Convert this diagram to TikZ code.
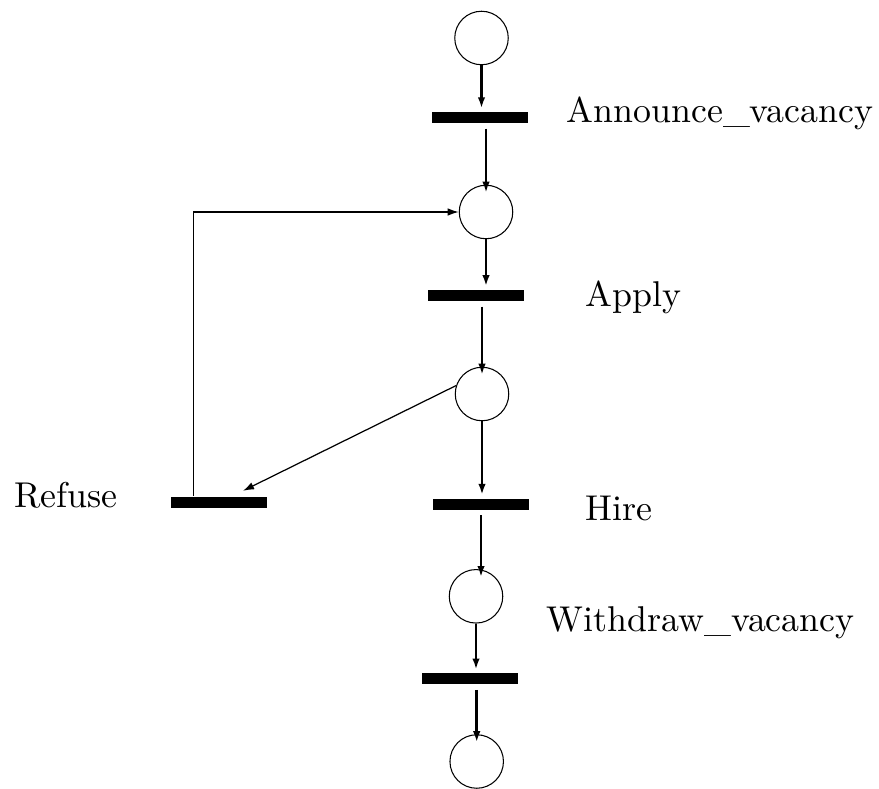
\documentclass[tikz,border=0pt]{standalone}
\usepackage{tikz}
\usetikzlibrary{arrows.meta,calc,positioning}
\tikzset{
	petri net/.style={
		x=1mm, y=1mm,
		font=\fontsize{10.2}{12}\selectfont,
		place/.style={draw,circle,line width=.3pt,minimum size=5.35mm,inner sep=0pt},
		trans/.style={fill,draw=none,minimum width=9.55mm,minimum height=1.1mm,inner sep=0pt},
		tname/.style={anchor=base west,inner sep=0pt},
		arc/.style={-{Latex[length=1.1mm,width=.75mm]},line width=.7pt},
		thin arc/.style={-{Latex[length=1.1mm,width=.75mm]},line width=.35pt},
		into place/.style={shorten >=-.8mm},
		into trans/.style={shorten >=.3mm},
		from trans/.style={shorten <=.5mm}
		}
}

\begin{document}
\begin{tikzpicture}[petri net]
	\useasboundingbox (0,0) rectangle (87.9,78.8);
	% places
	\node[place] (P1) at (48.15,75.0) {};
	\node[place] (P2) at (48.6,57.6) {};
	\node[place] (P3) at (48.2,39.4) {};
	\node[place] (P4) at (47.6,19.17) {};
	\node[place] (P5) at (47.67,2.65) {};
	% transitions
	\node[trans] (T1) at (48.0,67.05) {};
	\node[trans] (T2) at (47.6,49.27) {};
	\node[trans] (T3) at (48.1,28.4) {};
	\node[trans] (T4) at (47.02,10.93) {};
	\node[trans] (Tr) at (21.9,28.6) {};
	% transition names
	\node[tname] (N1) at (56.6,66.5) {Announce\_vacancy};
	\node[tname] (N2) at (58.5,48.13) {Apply};
	\node[tname] (N3) at (58.5,26.8) {Hire};
	\node[tname] (N4) at (54.6,15.63) {Withdraw\_vacancy};
	\node[tname] (Nr) at (1.35,28.1) {Refuse};
	% arcs
	\draw[arc,into trans] (P1.south) -- (P1.south |- T1.north);
	\draw[arc,from trans,into place] (T1.south -| P2) -- (P2.north);
	\draw[arc,into trans] (P2.south) -- (P2.south |- T2.north);
	\draw[arc,from trans,into place] (T2.south -| P3) -- (P3.north);
	\draw[arc,into trans] (P3.south) -- (P3.south |- T3.north);
	\draw[arc,from trans,into place] (T3.south) -- (T3.south |- P4.north);
	\draw[arc,into trans] (P4.south) -- (P4.south |- T4.north);
	\draw[arc,from trans,into place] (T4.south -| P5) -- (P5.north);
	\draw[thin arc] (P3.162) -- ([xshift=2.4mm,yshift=.5mm]Tr.north);
	\draw[thin arc] ([xshift=-2.57mm]Tr.north) |- (P2.west);
\end{tikzpicture}
\end{document}
